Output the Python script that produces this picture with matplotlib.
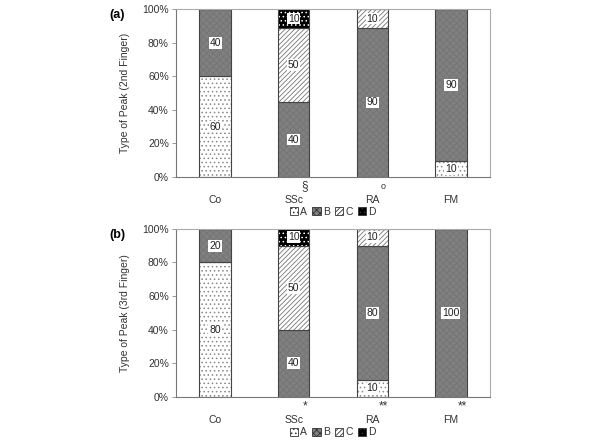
import matplotlib.pyplot as plt
import numpy as np

plt.rcParams['font.family'] = ['Liberation Sans', 'DejaVu Sans']
plt.rcParams['hatch.linewidth'] = 0.6

groups = ['Co', 'SSc', 'RA', 'FM']
types = ['A', 'B', 'C', 'D']

# panel (a): 2nd finger, bar heights (%) and printed labels
a_vals = {'A': [60, 0, 0, 9.5],
          'B': [40, 44.4, 88.9, 90.5],
          'C': [0, 44.4, 11.1, 0],
          'D': [0, 11.2, 0, 0]}
a_labels = {'A': ['60', '', '', '10'],
            'B': ['40', '40', '90', '90'],
            'C': ['', '50', '10', ''],
            'D': ['', '10', '', '']}
a_marks = ['', '§', 'o', '']

# panel (b): 3rd finger
b_vals = {'A': [80, 0, 10, 0],
          'B': [20, 40, 80, 100],
          'C': [0, 50, 10, 0],
          'D': [0, 10, 0, 0]}
b_labels = {'A': ['80', '', '10', ''],
            'B': ['20', '40', '80', '100'],
            'C': ['', '50', '10', ''],
            'D': ['', '10', '', '']}
b_marks = ['', '*', '**', '**']

styles = {'A': dict(face='white', hatch='....', hcol='#888888'),
          'B': dict(face='#808080', hatch='xxxxx', hcol='#747474'),
          'C': dict(face='white', hatch='///////', hcol='#777777'),
          'D': dict(face='black', hatch='....', hcol='white')}


def panel(ax, vals, labels, marks, ylabel, tag):
    x = np.arange(len(groups))
    bottom = np.zeros(len(groups))
    handles = []
    for t in types:
        v = np.array(vals[t], dtype=float)
        st = styles[t]
        ax.bar(x, v, 0.4, bottom=bottom, color=st['face'], hatch=st['hatch'],
               edgecolor=st['hcol'], linewidth=0)
        ax.bar(x, v, 0.4, bottom=bottom, fill=False, edgecolor='#444444', linewidth=0.8)
        for i in range(len(groups)):
            if labels[t][i]:
                ax.text(x[i], bottom[i] + v[i] / 2, labels[t][i], ha='center', va='center',
                        fontsize=7.5, color='#222222',
                        bbox=dict(boxstyle='square,pad=0.08', fc='white', ec='none'))
        bottom += v
        handles.append(plt.Rectangle((0, 0), 1, 1, facecolor=st['face'], hatch=st['hatch'],
                                     edgecolor='#333333', linewidth=0.6))
    ax.set_xlim(-0.5, 3.5)
    ax.set_ylim(0, 100)
    ax.set_yticks(np.arange(0, 101, 20))
    ax.set_yticklabels([f'{v}%' for v in range(0, 101, 20)], fontsize=7.5, color='#333333')
    ax.set_xticks(x)
    ax.set_xticklabels(groups, fontsize=7.5, color='#333333')
    ax.tick_params(axis='x', length=0, pad=13)
    ax.tick_params(axis='y', length=3, width=0.6, color='#888888', pad=2)
    for s in ax.spines.values():
        s.set_color('#aaaaaa')
        s.set_linewidth(0.8)
    ax.spines['left'].set_color('#777777')
    ax.spines['bottom'].set_color('#777777')
    ax.set_ylabel(ylabel, fontsize=7.5, color='#333333', labelpad=9)
    for i, m in enumerate(marks):
        if m:
            ax.text(x[i] + 0.14, -0.055, m, transform=ax.get_xaxis_transform(),
                    ha='center', va='center', fontsize=8.5 if m != 'o' else 6.5, color='#333333')
    ax.text(-0.21, 1.0, tag, transform=ax.transAxes, fontsize=9, fontweight='bold',
            ha='left', va='top')
    leg = ax.legend(handles, types, loc='center', bbox_to_anchor=(0.5, -0.21), ncol=4,
                    frameon=False, fontsize=7.5, handlelength=0.8, handleheight=0.8,
                    handletextpad=0.2, columnspacing=0.5)
    for txt in leg.get_texts():
        txt.set_color('#333333')


fig = plt.figure(figsize=(6, 4.41), dpi=100)
ax1 = fig.add_axes([0.293, 0.599, 0.524, 0.380])
ax2 = fig.add_axes([0.293, 0.100, 0.524, 0.381])
panel(ax1, a_vals, a_labels, a_marks, 'Type of Peak (2nd Finger)', '(a)')
panel(ax2, b_vals, b_labels, b_marks, 'Type of Peak (3rd Finger)', '(b)')

fig.savefig('out.png', dpi=100)
